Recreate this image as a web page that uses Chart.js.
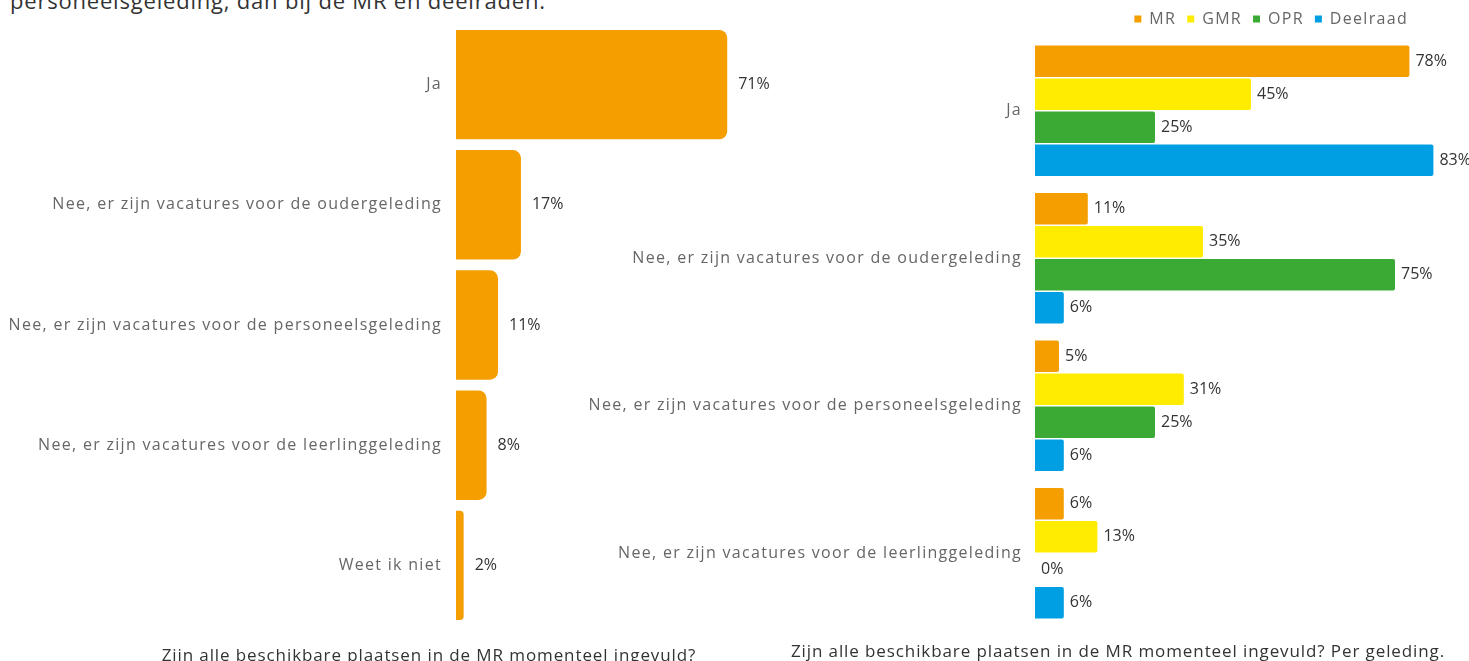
<!DOCTYPE html>
<html lang="nl">
<head>
<meta charset="utf-8">
<title>MR bezetting</title>
<script src="https://cdn.jsdelivr.net/npm/chart.js@4/dist/chart.umd.min.js"></script>
<style>
  html, body { margin: 0; padding: 0; background: #fff; }
  body { width: 1469px; height: 661px; overflow: hidden; position: relative; font-family: "Open Sans", sans-serif; }
  .intro { position: absolute; left: 10px; top: -11px; font-size: 22px; line-height: 22px; letter-spacing: 0.8px; color: #333; white-space: nowrap; }
  .box { position: absolute; top: 0; height: 661px; }
  #links { left: 0; width: 790px; }
  #rechts { left: 590px; width: 879px; }
  .onderschrift { position: absolute; font-size: 17px; letter-spacing: 0.9px; color: #333; white-space: nowrap; transform: translateX(-50%); }
</style>
</head>
<body>
<div class="intro">personeelsgeleding, dan bij de MR en deelraden.</div>

<div class="box" id="links"><canvas id="chartTotaal"></canvas></div>
<div class="box" id="rechts"><canvas id="chartGeleding"></canvas></div>

<div class="onderschrift" style="left:429px; top:643px;">Zijn alle beschikbare plaatsen in de MR momenteel ingevuld?</div>
<div class="onderschrift" style="left:1118px; top:639px;">Zijn alle beschikbare plaatsen in de MR momenteel ingevuld? Per geleding.</div>

<script>
// antwoorden totaal
const antwoorden = [
  'Ja',
  'Nee, er zijn vacatures voor de oudergeleding',
  'Nee, er zijn vacatures voor de personeelsgeleding',
  'Nee, er zijn vacatures voor de leerlinggeleding',
  'Weet ik niet'
];
const totaal = [71, 17, 11, 8, 2];

// per geleding (zonder "Weet ik niet")
const antwoordenGeleding = antwoorden.slice(0, 4);
const geledingen = ['MR', 'GMR', 'OPR', 'Deelraad'];
const mrWaarden = [78, 11, 5, 6];
const gmrWaarden = [45, 35, 31, 13];
const oprWaarden = [25, 75, 25, 0];
const deelraadWaarden = [83, 6, 6, 6];

const kleuren = ['#F59E00', '#FFEC00', '#3AAA35', '#009FE3'];
const FONT = '"Open Sans", sans-serif';

// iets ruimere letters voor as- en legendateksten
const spatiering = {
  id: 'spatiering',
  beforeLayout(chart) { chart.ctx.letterSpacing = '1.3px'; },
  beforeDraw(chart) { chart.ctx.letterSpacing = '1.3px'; }
};

// percentage achter elke balk
function waardeLabels(offset) {
  return {
    id: 'waardeLabels',
    afterDatasetsDraw(chart) {
      const ctx = chart.ctx;
      ctx.save();
      ctx.letterSpacing = '0px';
      ctx.font = '16px ' + FONT;
      ctx.fillStyle = '#333';
      ctx.textAlign = 'left';
      ctx.textBaseline = 'middle';
      chart.data.datasets.forEach((ds, i) => {
        chart.getDatasetMeta(i).data.forEach((bar, j) => {
          ctx.fillText(ds.data[j] + '%', bar.x + offset, bar.y);
        });
      });
      ctx.restore();
    }
  };
}

new Chart(document.getElementById('chartTotaal'), {
  type: 'bar',
  data: {
    labels: antwoorden,
    datasets: [{
      data: totaal,
      backgroundColor: kleuren[0],
      borderWidth: 0,
      borderRadius: 8,
      barPercentage: 0.91,
      categoryPercentage: 1
    }]
  },
  options: {
    indexAxis: 'y',
    responsive: true,
    maintainAspectRatio: false,
    animation: false,
    layout: { padding: { top: 24.5, bottom: 35.5, right: 28.4 } },
    plugins: { legend: { display: false }, tooltip: { enabled: false } },
    scales: {
      x: { display: false, min: 0, max: 80 },
      y: {
        afterFit: s => { s.width = 456; },
        grid: { display: false, drawTicks: false },
        border: { display: false },
        ticks: { padding: 14, color: '#666', font: { family: FONT, size: 16 } }
      }
    }
  },
  plugins: [spatiering, waardeLabels(11)]
});

const reeksen = [mrWaarden, gmrWaarden, oprWaarden, deelraadWaarden];

new Chart(document.getElementById('chartGeleding'), {
  type: 'bar',
  data: {
    labels: antwoordenGeleding,
    datasets: geledingen.map((naam, i) => ({
      label: naam,
      data: reeksen[i],
      backgroundColor: kleuren[i],
      borderWidth: 0,
      borderRadius: 2,
      barPercentage: 0.955,
      categoryPercentage: 0.895,
      clip: false
    }))
  },
  options: {
    indexAxis: 'y',
    responsive: true,
    maintainAspectRatio: false,
    animation: false,
    layout: { padding: { bottom: 34, right: 50 } },
    plugins: {
      tooltip: { enabled: false },
      legend: {
        position: 'top',
        align: 'end',
        labels: {
          boxWidth: 7,
          boxHeight: 7,
          padding: 11,
          color: '#666',
          font: { family: FONT, size: 16, lineHeight: 1 }
        }
      }
    },
    scales: {
      x: { display: false, min: 0, max: 80 },
      y: {
        afterFit: s => { s.width = 445; },
        grid: { display: false, drawTicks: false },
        border: { display: false },
        ticks: { padding: 13, color: '#666', font: { family: FONT, size: 16 } }
      }
    }
  },
  plugins: [spatiering, waardeLabels(6)]
});
</script>
</body>
</html>
